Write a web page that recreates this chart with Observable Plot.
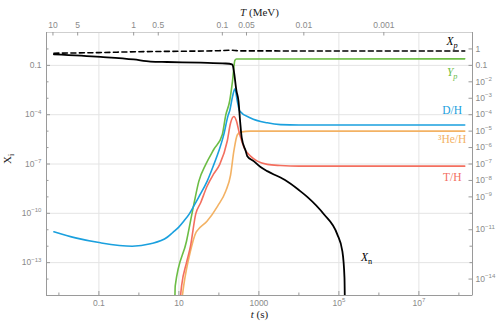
<!DOCTYPE html>
<html><head><meta charset="utf-8">
<script src="https://cdn.jsdelivr.net/npm/d3@7"></script>
<script src="https://cdn.jsdelivr.net/npm/@observablehq/plot@0.6"></script>
<style>html,body{margin:0;padding:0;background:#fff}svg{display:block}</style>
</head><body><div id="chart"></div>
<script>
// ---- data (t in seconds, abundance X) ----
const xnT = [7.5e-3, 0.11, 0.74, 1.95, 5.1, 35, 148, 214, 225, 237, 275, 309, 339, 372, 468, 513, 741, 1100, 1620, 2370, 3470, 4500, 1e4, 16200, 42200, 91200, 1.22e5, 1.38e5, 1.41e5];
const xnV = [0.47, 0.33, 0.23, 0.17, 0.16, 0.145, 0.13, 0.115, 0.09, 0.045, 2.8e-3, 6.8e-4, 4.1e-5, 4e-6, 6.2e-7, 3e-7, 1.5e-7, 6.5e-8, 3.7e-8, 2.3e-8, 1.5e-8, 1.05e-8, 2.6e-9, 1.0e-9, 8.7e-11, 5.2e-12, 5e-13, 1.2e-14, 4e-16];

const xpT = [7.5e-3, 0.1, 1, 10, 100, 200, 250, 320, 1.4e8];
const xpV = [0.55, 0.6, 0.68, 0.72, 0.78, 0.83, 0.81, 0.76, 0.75];

const ypT = [7.9, 8.1, 15.5, 23.7, 31.6, 47, 75, 122, 148, 186, 219, 251, 275, 1.4e8];
const ypV = [3e-16, 3.8e-15, 2e-12, 3.6e-10, 9.1e-9, 9.5e-8, 7.9e-7, 6.3e-6, 9.1e-5, 6.8e-4, 1.1e-2, 0.2, 0.245, 0.25];

const dhT = [7.5e-3, 0.026, 0.11, 0.68, 1.95, 5.1, 7.1, 9.8, 13.5, 18.6, 23.7, 31.6, 51, 75, 100, 133, 170, 186, 219, 251, 288, 331, 617, 1620, 3470, 1e4, 1.4e8];
const dhV = [7.6e-12, 3.2e-12, 1.6e-12, 1.0e-12, 1.4e-12, 3.5e-12, 7e-12, 1.4e-11, 3.5e-11, 1e-10, 2.8e-10, 1e-9, 9.1e-9, 9.5e-8, 6.3e-7, 6.3e-6, 9.1e-5, 1.7e-4, 1.26e-3, 3.8e-3, 6.8e-4, 1.7e-4, 6.3e-5, 3.2e-5, 2.5e-5, 2.35e-5, 2.35e-5];

const heT = [11.5, 13.2, 19.5, 26.3, 29.5, 51, 93, 148, 195, 237, 288, 347, 617, 1.4e8];
const heV = [3e-16, 4e-15, 5.1e-13, 6.3e-12, 9.5e-12, 3.4e-11, 2.75e-10, 2.2e-9, 2e-8, 6.2e-7, 5.8e-6, 8.7e-6, 1e-5, 1e-5];

const thT = [10.5, 11.7, 15.5, 19.5, 26.3, 35, 51, 74, 105, 162, 195, 237, 275, 316, 427, 617, 912, 1620, 3470, 1e4, 1.4e8];
const thV = [3e-16, 4e-15, 1e-13, 1e-12, 8.9e-11, 4.4e-10, 4.6e-9, 2.5e-8, 9.5e-8, 2.5e-6, 3e-5, 7.8e-5, 4.1e-5, 1e-5, 9.8e-7, 3e-7, 1.5e-7, 9.5e-8, 8.1e-8, 7.4e-8, 7.4e-8];

// series labels
const labelText = ["*X*_{*p*}", "*Y*_{*p*}", "D/H", "³He/H", "T/H", "*X*_{n}"];
const labelT = [6.8e7, 6.8e7, 6.8e7, 6.8e7, 6.8e7, 4.9e5];
const labelV = [3.0, 0.039, 1.9e-4, 3.3e-6, 1.6e-8, 2.2e-13];

// axis ticks
const xMajor = [0.1, 10, 1000, 1e5, 1e7];
const xMinor = [0.01, 1, 100, 1e4, 1e6, 1e8];
const yMajor = [0.1, 1e-4, 1e-7, 1e-10, 1e-13];
const yMinor = [1, 1e-2, 1e-3, 1e-5, 1e-6, 1e-8, 1e-9, 1e-11, 1e-12, 1e-14];
const yRight = [1, 0.1, 1e-2, 1e-3, 1e-4, 1e-5, 1e-6, 1e-7, 1e-8, 1e-9, 1e-11, 1e-14];
const yRightMinor = [1e-10, 1e-12, 1e-13];
const topT = [0.0071, 0.0295, 0.74, 3.05, 122, 490, 13300, 1.33e6];
const topLabels = ["10", "5", "1", "0.5", "0.1", "0.05", "0.01", "0.001"];

// ---- layout / style ----
const W = 500, H = 330, mL = 46, mR = 28, mT = 32, mB = 35;
const iw = W - mL - mR, ih = H - mT - mB;
const xDom = [0.0049, 2.19e8], yDom = [1e-15, 10];
const C = {green: "#6cbd45", blue: "#1aa0de", orange: "#f3b264", red: "#f36f5f", black: "#000"};
const labelColors = [C.black, C.green, C.blue, C.orange, C.red, C.black];

const zip = (T, V) => T.map((t, i) => ({t, v: V[i]}));
const sci = d => {
  const e = Math.round(Math.log10(d));
  if (e === 0) return "1";
  if (e === -1) return "0.1";
  if (e === 1) return "10";
  if (e === 3) return "1000";
  return `10^{${e}}`;
};
const topMap = new Map(topT.map((t, i) => [t, topLabels[i]]));
const labels = labelText.map((s, i) => ({s, t: labelT[i], v: labelV[i], c: labelColors[i]}));
const tick = "#9a9a9a", lab = "#8a8a8a";
const sans = "'Liberation Sans', Arial, sans-serif", serif = "'Liberation Serif', 'Times New Roman', serif";

const lineOpts = (stroke, w) => ({x: "t", y: "v", stroke, strokeWidth: w, curve: "monotone-x", clip: true});

const plot = Plot.plot({
  width: W, height: H,
  marginLeft: mL, marginRight: mR, marginTop: mT, marginBottom: mB,
  style: {fontFamily: sans, fontSize: "8.5px", background: "#fff"},
  x: {type: "log", domain: xDom},
  y: {type: "log", domain: yDom},
  marks: [
    Plot.gridX(xMajor, {stroke: "#e4e4e4", strokeOpacity: 1}),
    Plot.gridY(yMajor, {stroke: "#e4e4e4", strokeOpacity: 1}),
    Plot.frame({stroke: "#cfcfcf"}),
    Plot.ruleX([xDom[0], xDom[1]], {stroke: tick}),
    Plot.ruleY([yDom[0]], {stroke: tick}),
    // inward ticks
    Plot.ruleX(xMajor, {stroke: tick, insetTop: ih - 4}),
    Plot.ruleX(xMinor, {stroke: tick, insetTop: ih - 2.5}),
    Plot.ruleX(topT, {stroke: tick, insetBottom: ih - 3.5}),
    Plot.ruleY(yMajor, {stroke: tick, insetRight: iw - 4}),
    Plot.ruleY(yMinor, {stroke: tick, insetRight: iw - 2.5}),
    Plot.ruleY(yRight, {stroke: tick, insetLeft: iw - 3.5}),
    Plot.ruleY(yRightMinor, {stroke: tick, insetLeft: iw - 2.5}),
    // tick labels
    Plot.axisX({ticks: xMajor, tickSize: 0, tickPadding: 4, tickFormat: sci, color: lab, label: null}),
    Plot.axisX({anchor: "top", ticks: topT, tickSize: 0, tickPadding: 5, tickFormat: d => topMap.get(d), color: lab, label: null}),
    Plot.axisY({ticks: yMajor, tickSize: 0, tickPadding: 5, tickFormat: sci, color: lab, label: null}),
    Plot.axisY({anchor: "right", ticks: yRight, tickSize: 0, tickPadding: 3, tickFormat: sci, color: lab, label: null}),
    // data
    Plot.line(zip(ypT, ypV), lineOpts(C.green, 1.6)),
    Plot.line(zip(dhT, dhV), lineOpts(C.blue, 1.6)),
    Plot.line(zip(heT, heV), lineOpts(C.orange, 1.6)),
    Plot.line(zip(thT, thV), lineOpts(C.red, 1.6)),
    Plot.line(zip(xnT, xnV), lineOpts(C.black, 1.8)),
    Plot.line(zip(xpT, xpV), {...lineOpts(C.black, 1.6), strokeDasharray: "5,3.5"}),
    // labels
    Plot.text(labels, {x: "t", y: "v", text: "s", fill: "c", fontFamily: serif, fontSize: 11.5, textAnchor: "middle"}),
    // axis titles
    Plot.text(["*T* (MeV)"], {text: d => d, frameAnchor: "top", dy: -24, fontFamily: serif, fontSize: 11, fill: "#222"}),
    Plot.text(["*t* (s)"], {text: d => d, frameAnchor: "bottom", dy: 22, fontFamily: serif, fontSize: 11, fill: "#222"}),
    Plot.text(["X_{i}"], {text: d => d, frameAnchor: "left", dx: -39, rotate: -90, fontFamily: serif, fontSize: 11, fill: "#222"})
  ]
});
document.getElementById("chart").appendChild(plot);

// ---- rich text: *italic*, ^{sup}, _{sub} ----
const NS = "http://www.w3.org/2000/svg";
function rich(el) {
  const s = el.textContent;
  if (!/[\*\^_]/.test(s)) return;
  const fs = parseFloat(getComputedStyle(el).fontSize) || 10;
  el.textContent = "";
  const re = /(\*)|\^\{([^}]*)\}|_\{([^}]*)\}|([^*^_]+)/g;
  let m, italic = false, shift = 0;
  while ((m = re.exec(s))) {
    if (m[1]) { italic = !italic; continue; }
    let txt, target = 0, small = false, it = italic;
    if (m[2] !== undefined) { txt = m[2].replace(/-/g, "\u2212"); target = -0.42 * fs; small = true; }
    else if (m[3] !== undefined) {
      txt = m[3]; target = 0.3 * fs; small = true;
      if (/^\*.*\*$/.test(txt)) { txt = txt.slice(1, -1); it = true; }
    } else txt = m[4];
    const ts = document.createElementNS(NS, "tspan");
    ts.textContent = txt;
    if (target - shift !== 0) ts.setAttribute("dy", (target - shift).toFixed(2));
    shift = target;
    if (small) ts.setAttribute("font-size", (fs * 0.72).toFixed(2));
    if (it) ts.setAttribute("font-style", "italic");
    el.appendChild(ts);
  }
}
plot.querySelectorAll("text").forEach(rich);
</script>
</body></html>
